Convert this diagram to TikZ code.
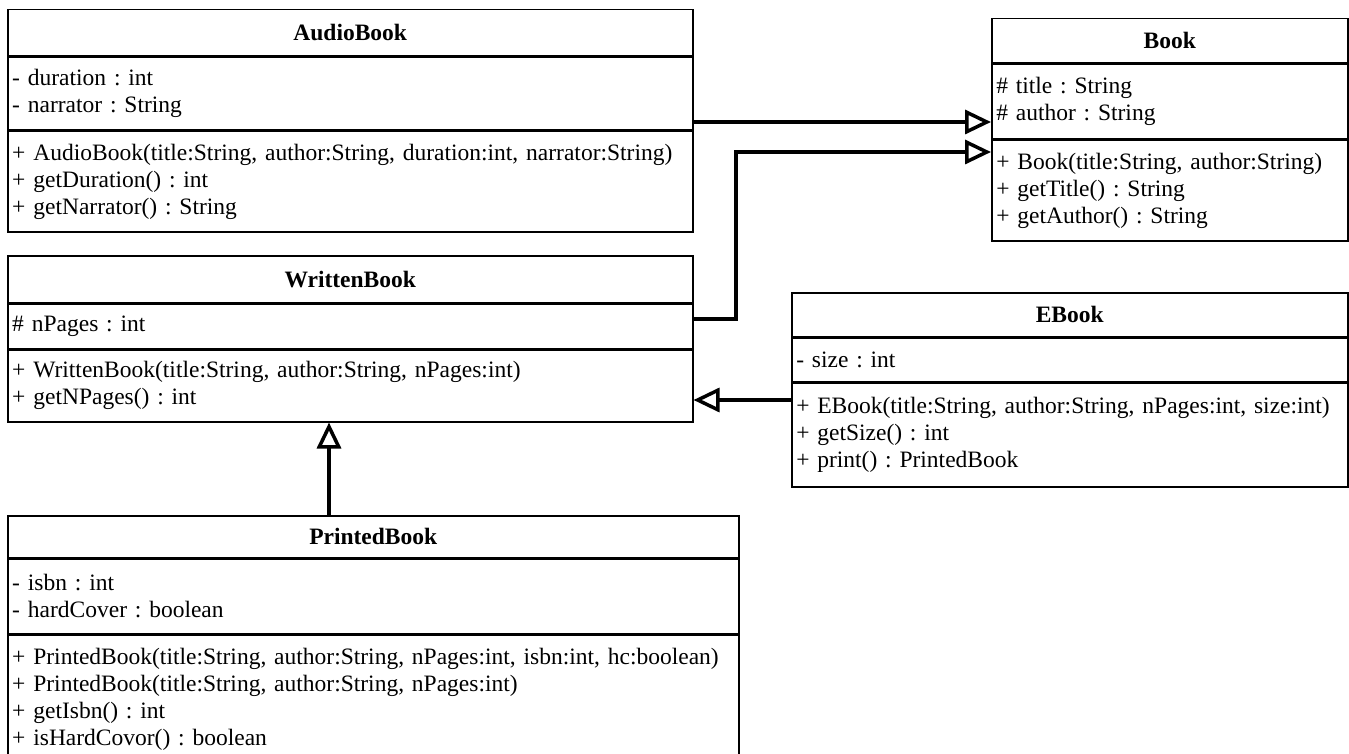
\documentclass[tikz,border=0pt]{standalone}
\usepackage{fontspec}
\setmainfont{Liberation Serif}
\usetikzlibrary{arrows.meta}
\frenchspacing

\begin{document}
\begin{tikzpicture}[x=1pt,y=-1pt,
  box/.style={draw,line width=1.5pt,anchor=north west,inner xsep=4.5pt,inner ysep=0pt,
    align=left,font=\fontsize{23.5}{27}\selectfont},
  head/.style={box,align=center,font=\fontsize{23.5}{27}\selectfont\bfseries},
  gen/.style={line width=4pt,-{Triangle[open,length=26pt,width=24pt,line width=3.5pt]}}]
\useasboundingbox (0,0) rectangle (1349,754);
\clip (0,0) rectangle (1349,754);
% AudioBook
\node (ab) at (7,9) [head,text width=676pt,minimum height=46pt] {AudioBook};
\node (ab-attr) at (ab.south west) [box,text width=676pt,minimum height=73pt] {- duration : int\\- narrator : String};
\node (ab-meth) at (ab-attr.south west) [box,text width=676pt,minimum height=100pt] {+ AudioBook(title:String, author:String, duration:int, narrator:String)\\+ getDuration() : int\\+ getNarrator() : String};
% Book
\node (bk) at (991,18) [head,text width=347pt,minimum height=44pt] {Book};
\node (bk-attr) at (bk.south west) [box,text width=347pt,minimum height=75pt] {\# title : String\\\# author : String};
\node (bk-meth) at (bk-attr.south west) [box,text width=347pt,minimum height=100pt] {+ Book(title:String, author:String)\\+ getTitle() : String\\+ getAuthor() : String};
% WrittenBook
\node (wb) at (7,255) [head,text width=676pt,minimum height=47pt] {WrittenBook};
\node (wb-attr) at (wb.south west) [box,text width=676pt,minimum height=44pt] {\# nPages : int};
\node (wb-meth) at (wb-attr.south west) [box,text width=676pt,minimum height=72pt] {+ WrittenBook(title:String, author:String, nPages:int)\\+ getNPages() : int};
% EBook
\node (eb) at (791,292) [head,text width=547pt,minimum height=44pt] {EBook};
\node (eb-attr) at (eb.south west) [box,text width=547pt,minimum height=43pt] {- size : int};
\node (eb-meth) at (eb-attr.south west) [box,text width=547pt,minimum height=104pt] {+ EBook(title:String, author:String, nPages:int, size:int)\\+ getSize() : int\\+ print() : PrintedBook};
% PrintedBook
\node (pb) at (7,515) [head,text width=722pt,minimum height=42pt] {PrintedBook};
\node (pb-attr) at (pb.south west) [box,text width=722pt,minimum height=74pt] {- isbn : int\\- hardCover : boolean};
\node (pb-meth) at (pb-attr.south west) [box,text width=722pt,minimum height=130pt] {+ PrintedBook(title:String, author:String, nPages:int, isbn:int, hc:boolean)\\+ PrintedBook(title:String, author:String, nPages:int)\\+ getIsbn() : int\\+ isHardCovor() : boolean};
% generalisations
\draw[gen] ([yshift=9pt]ab-attr.south east) -- ([yshift=9pt]ab-attr.south east -| bk-attr.west);
\draw[gen] ([yshift=7pt]wb-attr.east) -- ++(42,0) |- ([yshift=-12pt]bk-meth.north west);
\draw[gen] ([yshift=-18pt]eb-meth.north west) -- ([yshift=-18pt]eb-meth.north west -| wb-meth.east);
\draw[gen] ([xshift=322pt]pb.north west) -- ([xshift=322pt]wb-meth.south west);
\end{tikzpicture}
\end{document}
